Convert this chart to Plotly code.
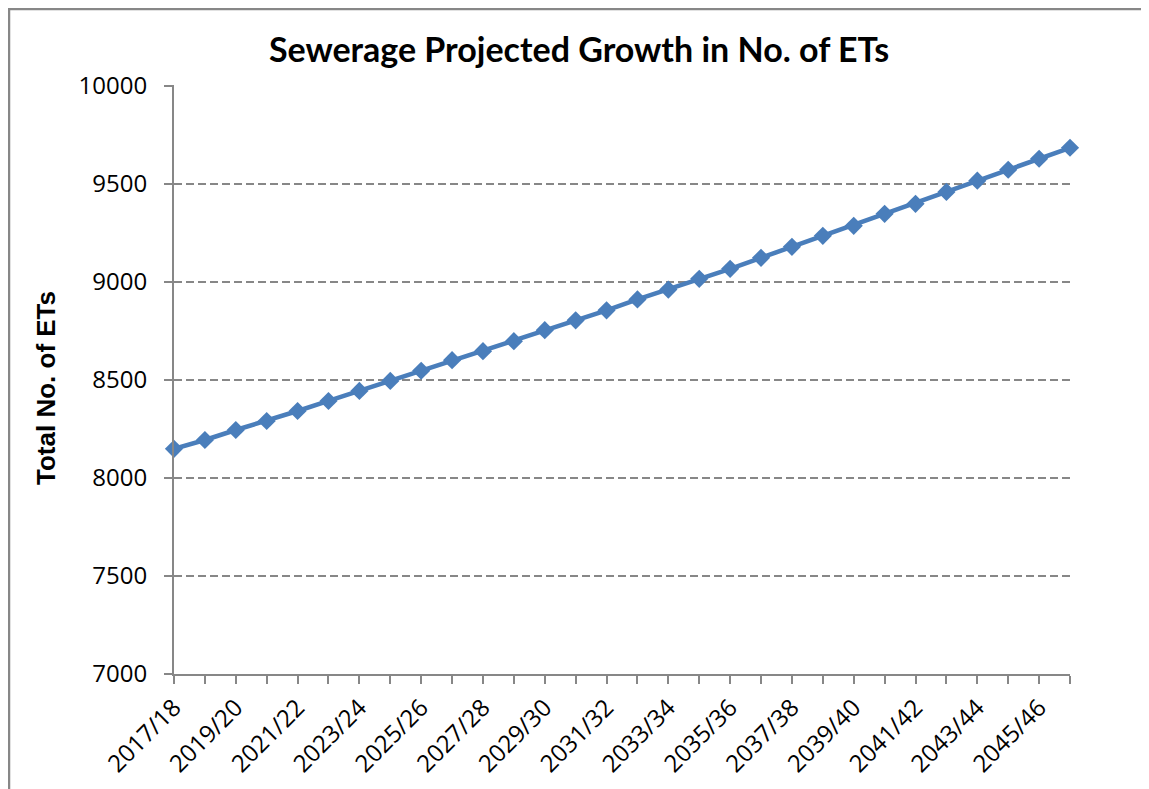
import plotly.graph_objects as go

start_years = list(range(2017, 2047))
categories = [f"{y}/{str(y + 1)[-2:]}" for y in start_years]
values = [8148, 8193, 8244, 8290, 8341, 8392, 8443, 8494, 8546, 8600,
          8646, 8697, 8753, 8803, 8854, 8910, 8960, 9015, 9066, 9122,
          9178, 9234, 9285, 9346, 9397, 9458, 9515, 9571, 9627, 9683]
tick_text = [c if i % 2 == 0 else "" for i, c in enumerate(categories)]
y_ticks = [7000, 7500, 8000, 8500, 9000, 9500, 10000]
y_tick_text = [str(v) for v in y_ticks]

LINE = "#4A7EBB"
GREY = "#878787"

# page has an 8px body margin, so shift everything up/left by 8px
OFF = 8
L, T, R, B = 174 - OFF, 85 - OFF, 1070 - OFF, 674 - OFF
PW, PH = R - L, B - T

fig = go.Figure()
fig.add_trace(go.Scatter(
    x=categories, y=values, mode="lines+markers",
    line=dict(color=LINE, width=4.5),
    marker=dict(symbol="diamond", size=14, color=LINE),
    cliponaxis=False, showlegend=False,
))

fig.update_layout(
    width=1149, height=789,
    margin=dict(l=L, r=1149 - R, t=T, b=789 - B),
    paper_bgcolor="white", plot_bgcolor="white",
    font=dict(family="Open Sans", color="black"),
    title=dict(text="<b>Sewerage Projected Growth in No. of ETs</b>",
               x=(579 - OFF) / 1149, xanchor="center",
               y=1 - (50 - OFF) / 789, yanchor="middle", yref="container",
               font=dict(family="Lato", size=34, color="black")),
    xaxis=dict(
        type="category", range=[0, 29],
        tickmode="array", tickvals=categories, ticktext=tick_text,
        tickangle=-45, tickfont=dict(size=24, family="Open Sans", color="black"),
        ticks="outside", ticklen=8, tickwidth=2, tickcolor=GREY,
        showline=True, linecolor=GREY, linewidth=2,
        showgrid=False, zeroline=False,
    ),
    yaxis=dict(
        range=[7000, 10003], tickmode="array", tickvals=y_ticks,
        ticktext=y_tick_text,
        tickfont=dict(size=24, family="Open Sans", color="black"),
        ticks="outside", ticklen=8, tickwidth=2, tickcolor=GREY,
        ticklabelstandoff=12,
        showline=True, linecolor=GREY, linewidth=2,
        showgrid=True, gridcolor=GREY, gridwidth=2, griddash="8px,4px",
        zeroline=False,
    ),
    annotations=[dict(
        text="<b>Total No. of ETs</b>", textangle=-90,
        xref="paper", yref="paper", x=(46 - 174) / PW, y=(674 - 388) / PH,
        xanchor="center", yanchor="middle", showarrow=False,
        font=dict(family="Liberation Sans", size=26, color="black"),
    )],
    shapes=[dict(
        type="rect", xref="paper", yref="paper",
        x0=(1 - L) / PW, x1=(1160 - L) / PW,
        y0=(B - 800) / PH, y1=(B - 1) / PH,
        line=dict(color=GREY, width=2.5), fillcolor="rgba(0,0,0,0)",
        layer="below",
    )],
)

fig.write_html("out.html")
